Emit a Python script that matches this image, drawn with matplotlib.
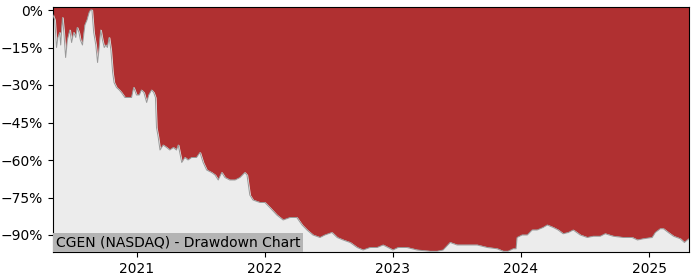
#!/usr/bin/env python3

"""Drawdown chart for CGEN (NASDAQ).
"""

import pandas as pd
import matplotlib
matplotlib.use('Agg')
import matplotlib.pyplot as plt
import matplotlib.dates as mdates
from matplotlib.ticker import FuncFormatter

# Drawdown values (in percent).
dates = [
	'2020-05-07', '2020-05-12', '2020-05-17', '2020-05-21', '2020-05-26', '2020-05-29',
	'2020-06-03', '2020-06-07', '2020-06-12', '2020-06-17', '2020-06-24', '2020-06-29',
	'2020-07-05', '2020-07-11', '2020-07-15', '2020-07-20', '2020-07-24', '2020-07-30',
	'2020-08-06', '2020-08-12', '2020-08-18', '2020-08-22', '2020-08-26', '2020-08-31',
	'2020-09-06', '2020-09-11', '2020-09-15', '2020-09-20', '2020-09-25', '2020-09-30',
	'2020-10-05', '2020-10-09', '2020-10-14', '2020-10-19', '2020-10-24', '2020-10-28',
	'2020-11-04', '2020-11-12', '2020-11-18', '2020-11-28', '2020-12-07', '2020-12-17',
	'2020-12-23', '2020-12-31', '2021-01-08', '2021-01-14', '2021-01-21', '2021-01-29',
	'2021-02-04', '2021-02-12', '2021-02-18', '2021-02-23', '2021-02-26', '2021-03-03',
	'2021-03-08', '2021-03-17', '2021-03-27', '2021-04-05', '2021-04-15', '2021-04-24',
	'2021-04-29', '2021-05-09', '2021-05-18', '2021-05-27', '2021-06-06', '2021-06-20',
	'2021-06-30', '2021-07-09', '2021-07-19', '2021-08-02', '2021-08-12', '2021-08-21',
	'2021-08-31', '2021-09-09', '2021-09-23', '2021-10-08', '2021-10-22', '2021-11-05',
	'2021-11-11', '2021-11-19', '2021-11-28', '2021-12-18', '2022-01-01', '2022-01-15',
	'2022-02-04', '2022-02-22', '2022-03-14', '2022-04-02', '2022-04-17', '2022-05-01',
	'2022-05-18', '2022-06-07', '2022-06-21', '2022-07-11', '2022-07-26', '2022-08-12',
	'2022-09-01', '2022-09-21', '2022-10-08', '2022-10-28', '2022-11-17', '2022-12-04',
	'2022-12-18', '2023-01-01', '2023-01-16', '2023-02-10', '2023-03-11', '2023-04-17',
	'2023-05-07', '2023-05-24', '2023-06-13', '2023-07-03', '2023-07-20', '2023-08-09',
	'2023-08-29', '2023-09-27', '2023-10-25', '2023-11-11', '2023-11-25', '2023-12-10',
	'2023-12-18', '2023-12-21', '2024-01-04', '2024-01-19', '2024-02-02', '2024-02-16',
	'2024-03-04', '2024-03-16', '2024-04-02', '2024-04-16', '2024-04-30', '2024-05-15',
	'2024-05-29', '2024-06-18', '2024-07-08', '2024-07-25', '2024-08-14', '2024-08-28',
	'2024-09-20', '2024-10-19', '2024-11-13', '2024-11-28', '2024-12-15', '2025-01-09',
	'2025-01-18', '2025-02-01', '2025-02-10', '2025-02-24', '2025-03-11', '2025-03-30',
	'2025-04-11', '2025-04-19', '2025-04-24',
]
drawdown = [
	-2, -4, -15, -11, -9, -14,
	-3, -9, -19, -12, -8, -13,
	-9, -11, -7, -9, -12, -14,
	-6, -4, -1, 0, 0, -9,
	-14, -21, -16, -8, -12, -15,
	-14, -15, -11, -16, -25, -29,
	-31, -32, -33, -35, -35, -35,
	-31, -34, -34, -32, -33, -37,
	-34, -32, -33, -35, -47, -51,
	-56, -54, -55, -56, -55, -56,
	-54, -61, -59, -60, -59, -59,
	-57, -61, -64, -65, -66, -68,
	-65, -67, -68, -68, -67, -65,
	-66, -74, -76, -77, -77, -79,
	-82, -84, -83, -83, -86, -88,
	-90, -91, -90, -89, -91, -92,
	-93, -95, -96, -95, -95, -94,
	-95, -96, -95, -95, -96, -96.5,
	-96.5, -96, -93, -94, -94, -94,
	-94, -95, -95.5, -96.5, -96.5, -95.5,
	-95.5, -91, -90, -90, -88, -88,
	-87, -86, -87, -88, -89.5, -89,
	-88, -90, -91, -90.5, -90.5, -89.5,
	-90.5, -91, -91, -92, -91.5, -91,
	-89, -87.5, -87.5, -89, -90.5, -91.5,
	-93, -92, -91.5,
]

yticks = [0, -15, -30, -45, -60, -75, -90]
title = 'CGEN (NASDAQ) - Drawdown Chart'

RED  = '#b03031'
GRAY = '#ececec'

x = pd.to_datetime(dates)
y = [v / 100 for v in drawdown]
y_min, y_max = -0.968, 0.012

fig = plt.figure(figsize=(7, 2.8), dpi=100)
ax = fig.add_axes([0.0757, 0.1, 0.9086, 0.875])

# Red everywhere above the curve, light gray below it.
ax.set_facecolor(RED)
ax.fill_between(x, y, y_min, color=GRAY, zorder=2)
ax.plot(x, y, color='#999999', linewidth=0.7, zorder=3)

ax.set_xlim(x[0], x[-1])
ax.set_ylim(y_min, y_max)

ax.set_yticks([v / 100 for v in yticks])
ax.yaxis.set_major_formatter(FuncFormatter(lambda v, _: '{:.0f}%'.format(v * 100).replace('-', '\u2212')))
ax.xaxis.set_major_locator(mdates.YearLocator())
ax.xaxis.set_major_formatter(mdates.DateFormatter('%Y'))
ax.tick_params(labelsize=10)

ax.text(0.005, 0.01, title, transform=ax.transAxes, fontsize=10, ha='left', va='bottom',
	zorder=5, bbox=dict(boxstyle='square,pad=0.2', facecolor='#b4b4b4', edgecolor='none'))

fig.savefig('out.png', dpi=100)
